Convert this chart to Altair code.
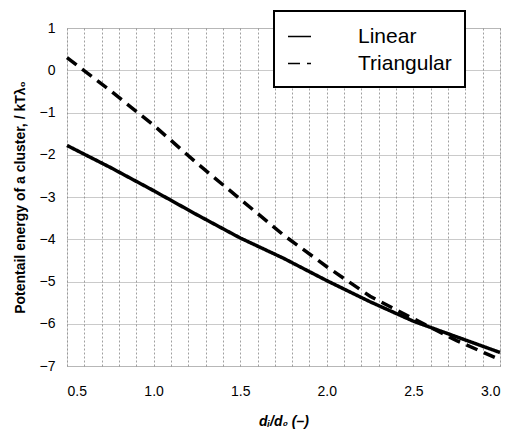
import altair as alt
import pandas as pd

x_vals = [0.5, 0.75, 1.0, 1.25, 1.5, 1.75, 2.0, 2.25, 2.5, 2.75, 3.0]
linear = [-1.78, -2.3, -2.85, -3.42, -3.97, -4.45, -4.98, -5.48, -5.94, -6.31, -6.68]
triangular = [0.3, -0.48, -1.3, -2.2, -3.05, -3.9, -4.65, -5.35, -5.88, -6.4, -6.85]
series_names = ["Linear", "Triangular"]
x_grid = [round(0.5 + 0.1 * i, 1) for i in range(26)]
y_ticks = [-7, -6, -5, -4, -3, -2, -1, 0, 1]

rows = []
for xv, a, b in zip(x_vals, linear, triangular):
    rows.append({"x": xv, "y": a, "series": series_names[0]})
    rows.append({"x": xv, "y": b, "series": series_names[1]})
df = pd.DataFrame(rows)

FONT = "Liberation Sans"

chart = alt.Chart(df).mark_line(color="black", strokeWidth=3.5).encode(
    x=alt.X("x:Q",
            scale=alt.Scale(domain=[0.5, 3.0], nice=False, zero=False),
            axis=alt.Axis(values=x_grid,
                          labelExpr="abs(datum.value*2 - round(datum.value*2)) < 0.001 ? format(datum.value, '.1f') : ''",
                          title="dᵢ/d₀ (–)",
                          titleFontStyle="italic", titleFontWeight="bold", titleFontSize=14,
                          titlePadding=16, labelPadding=18, labelFontSize=14,
                          ticks=False, domain=False,
                          grid=True, gridColor="#888", gridDash=[2, 2], gridWidth=0.8)),
    y=alt.Y("y:Q",
            scale=alt.Scale(domain=[-7, 1], nice=False, zero=False),
            axis=alt.Axis(values=y_ticks, title="Potentail energy of a cluster, / kTλ₀",
                          titleFontWeight="bold", titleFontSize=14, titlePadding=12,
                          labelPadding=12, labelFontSize=14, ticks=False, domain=False,
                          grid=True, gridColor="#888", gridDash=[1, 1], gridWidth=0.9)),
    strokeDash=alt.StrokeDash("series:N",
                              scale=alt.Scale(domain=series_names, range=[[1, 0], [12, 7]]),
                              legend=alt.Legend(title=None, orient="none", legendX=207, legendY=-17,
                                                symbolType="stroke", symbolSize=529,
                                                symbolStrokeWidth=1.5, symbolStrokeColor="black",
                                                labelFontSize=21, labelOffset=46,
                                                strokeColor="black", fillColor="white",
                                                padding=13, rowPadding=4)),
).properties(
    width=433, height=338,
    autosize=alt.AutoSizeParams(type="none"),
    padding={"left": 59, "top": 20, "right": 3, "bottom": 64},
).configure_view(
    stroke="black", strokeWidth=1.5
).configure(
    font=FONT
).configure_axis(
    labelColor="black", titleColor="black", labelFont=FONT, titleFont=FONT
).configure_legend(
    labelColor="black", labelFont=FONT, strokeWidth=2
)

chart.save("out.html", embed_options={"renderer": "svg", "actions": False})
